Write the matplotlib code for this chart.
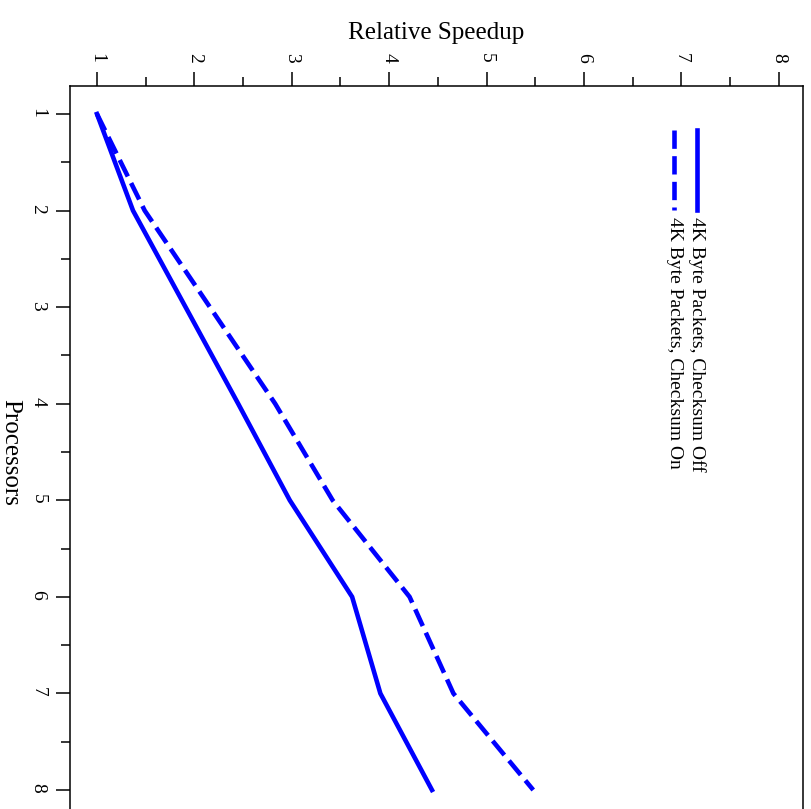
import matplotlib
matplotlib.use("Agg")
import matplotlib.pyplot as plt
from matplotlib.lines import Line2D

plt.rcParams['font.family'] = ['Liberation Serif', 'DejaVu Serif']

processors = [1, 2, 3, 4, 5, 6, 7, 8]
speedup_off = [1.0, 1.37, 1.91, 2.45, 2.98, 3.62, 3.91, 4.44]
speedup_on = [1.0, 1.49, 2.16, 2.83, 3.42, 4.21, 4.66, 5.48]
labels = ['4K Byte Packets, Checksum Off', '4K Byte Packets, Checksum On']
blue = '#0000ff'

fig = plt.figure(figsize=(8.12, 8.09), dpi=100)
ax = fig.add_axes([70/812, 1 - 818/809, 733/812, 732/809])

ax.plot(speedup_off, processors, color=blue, lw=3.3, solid_joinstyle='miter')
ax.plot(speedup_on, processors, color=blue, lw=3.3, dashes=(4, 1.6))

ax.set_xlim(0.723, 8.25)
ax.set_ylim(8.29, 0.71)

ax.xaxis.tick_top()
ax.xaxis.set_label_position('top')
ax.set_xticks(range(1, 9))
ax.set_xticks([x + 0.5 for x in range(1, 8)], minor=True)
ax.set_yticks(range(1, 9))
ax.set_yticks([y + 0.5 for y in range(1, 8)], minor=True)
ax.tick_params(which='major', length=10, width=1.1, labelsize=14, pad=7)
ax.tick_params(which='minor', length=6.5, width=1.1)
for t in ax.get_xticklabels() + ax.get_yticklabels():
    t.set_rotation(-90)

ax.set_xlabel('Relative Speedup', fontsize=18, labelpad=10)
ax.set_ylabel('Processors', fontsize=18, rotation=-90, va='center', labelpad=14)

for s in ax.spines.values():
    s.set_linewidth(1.1)

# rotated legend drawn by hand
legend_x = [7.16, 6.93]
styles = [dict(), dict(dashes=(4, 1.6))]
for lx, lab, st in zip(legend_x, labels, styles):
    ax.add_line(Line2D([lx, lx], [1.17, 1.99], color=blue, lw=3.3, **st))
    ax.text(lx, 2.07, lab, rotation=-90, fontsize=14, ha='center', va='top')

fig.savefig('out.png', dpi=100)
